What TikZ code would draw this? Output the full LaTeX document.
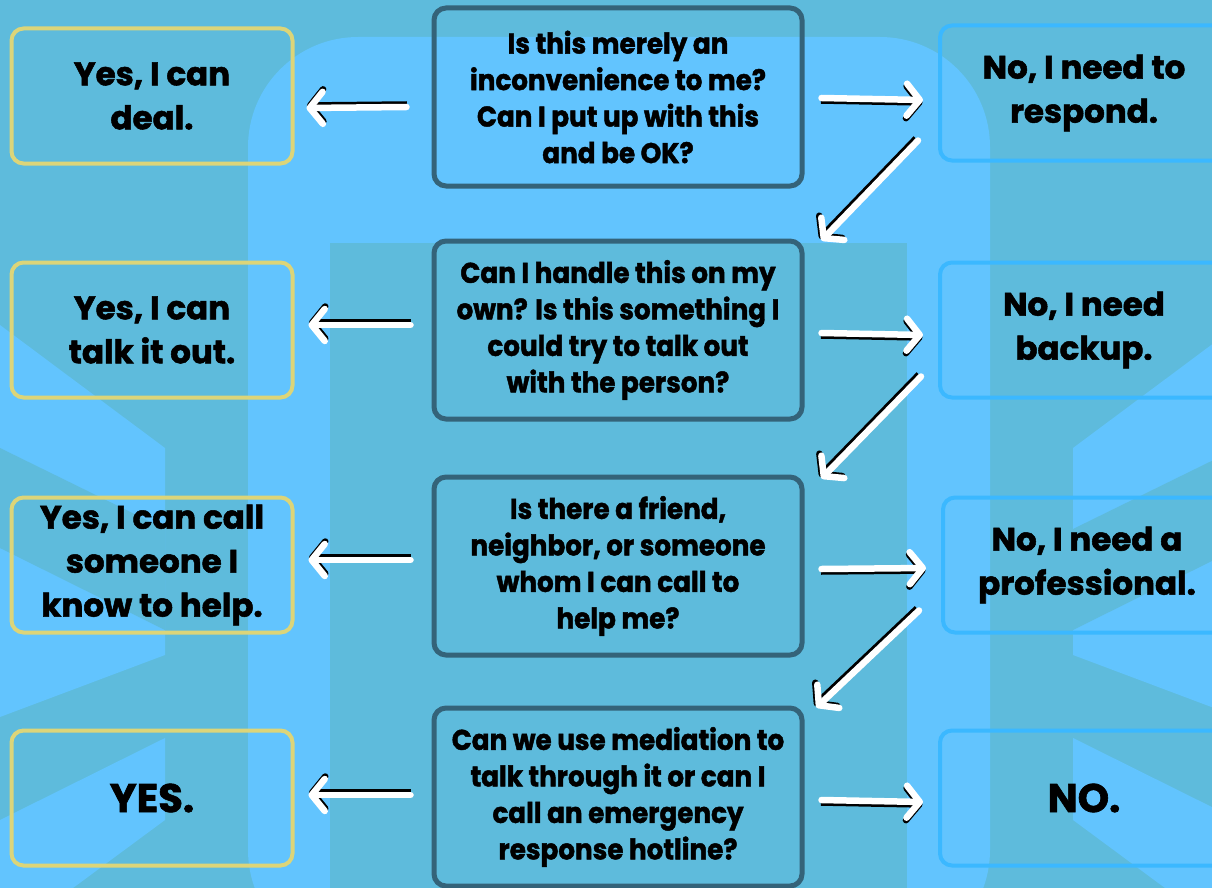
\documentclass[tikz,border=0pt]{standalone}
\usepackage{fontspec}
\setmainfont{Poppins}[BoldFeatures = {FakeBold = 1.6}]
\newfontfamily\qfont{Poppins}[FakeStretch = 0.92, BoldFeatures = {FakeBold = 1.6}]
\usetikzlibrary{calc,arrows.meta}

\definecolor{bgmuted}{HTML}{5EBBDC}
\definecolor{bglight}{HTML}{62C4FE}
\definecolor{yesline}{HTML}{DCD579}
\definecolor{qline}{HTML}{346379}
\definecolor{noline}{HTML}{3BB8FF}

\tikzset{
    yesbox/.style = {draw = yesline, line width = 4pt, rounded corners = 12pt, align = center,
        minimum width = 281pt, minimum height = 135pt, inner sep = 0pt,
        font = \bfseries\fontsize{32.5}{44}\selectfont},
    nobox/.style = {yesbox, draw = noline},
    qbox/.style = {draw = qline, line width = 5pt, rounded corners = 12pt, align = center,
        minimum width = 368pt, minimum height = 178pt, inner sep = 0pt,
        font = \qfont\bfseries\fontsize{28.5}{36.5}\selectfont},
    sketch/.style = {draw = white, line width = 6.5pt, line cap = round,
        -{Straight Barb[length = 13pt, width = 32pt, round]},
        preaction = {draw = black, line width = 6.5pt, transform canvas = {shift = {#1}}}}
}

\begin{document}
\begin{tikzpicture}[x = 1pt, y = -1pt]
    \clip (0, 0) rectangle (1212, 888);
    % background
    \fill[bgmuted] (0, 0) rectangle (1212, 888);
    \fill[bglight, rounded corners = 110pt] (248, 960) -- (248, 37) -- (990, 37) -- (990, 960) -- cycle;
    \fill[bgmuted] (330, 243) rectangle (907, 900);
    \fill[bglight] (0, 325) -- (165, 448) -- (165, 655) -- (0, 717) -- cycle;
    \fill[bgmuted] (0, 448) -- (165, 529) -- (165, 630) -- (0, 548) -- cycle;
    \fill[bglight] (0, 820) -- (165, 738) -- (165, 820) -- (73, 888) -- (0, 888) -- cycle;
    \fill[bglight] (1238, 325) -- (1073, 448) -- (1073, 655) -- (1238, 717) -- cycle;
    \fill[bgmuted] (1238, 448) -- (1073, 529) -- (1073, 630) -- (1238, 548) -- cycle;
    \fill[bglight] (1238, 820) -- (1073, 738) -- (1073, 820) -- (1165, 888) -- (1238, 888) -- cycle;

    % questions
    \node[qbox] (q1) at (618, 97) {Is this merely an \\ inconvenience to me? \\ Can I put up with this \\ and be OK?};
    \node[qbox] (q2) at (618, 330) {Can I handle this on my \\ own? Is this something I \\ could try to talk out \\ with the person?};
    \node[qbox] (q3) at (618, 566) {Is there a friend, \\ neighbor, or someone \\ whom I can call to \\ help me?};
    \node[qbox] (q4) at (618, 797) {Can we use mediation to \\ talk through it or can I \\ call an emergency \\ response hotline?};

    % yes answers
    \node[yesbox] (y1) at (152, 96) {Yes, I can \\ deal.};
    \node[yesbox] (y2) at (152, 330) {Yes, I can \\ talk it out.};
    \node[yesbox] (y3) at (152, 565) {Yes, I can call \\ someone I \\ know to help.};
    \node[yesbox] (y4) at (152, 798) {\fontsize{40}{44}\selectfont YES.};

    % no answers
    \node[nobox, minimum width = 288pt] (n1) at (1084, 93) {No, I need to \\ respond.};
    \node[nobox, minimum width = 288pt] (n2) at (1084, 330) {No, I need \\ backup.};
    \node[nobox, minimum width = 288pt] (n3) at (1087, 565) {No, I need a \\ professional.};
    \node[nobox, minimum width = 288pt] (n4) at (1084, 798) {\fontsize{40}{44}\selectfont NO.};

    % yes arrows
    \draw[sketch = {(0.5pt, 2.5pt)}] ($(q1.west) + (-25, 10)$) -- ($(y1.east) + (12, 12)$);
    \draw[sketch = {(0.5pt, 2.5pt)}] ($(q2.west) + (-21, -5)$) -- ($(y2.east) + (14, -5)$);
    \draw[sketch = {(0.5pt, 2.5pt)}] ($(q3.west) + (-21, -6)$) -- ($(y3.east) + (14, -5)$);
    \draw[sketch = {(0.5pt, 2.5pt)}] ($(q4.west) + (-21, -2)$) -- ($(y4.east) + (14, -3)$);

    % no arrows
    \draw[sketch = {(-0.5pt, -2.5pt)}] ($(q1.east) + (17, 1)$) -- ($(n1.west) + (-15, 7)$);
    \draw[sketch = {(-0.5pt, -2.5pt)}] ($(q2.east) + (17, 3)$) -- ($(n2.west) + (-15, 5)$);
    \draw[sketch = {(-0.5pt, -2.5pt)}] ($(q3.east) + (17, 3)$) -- ($(n3.west) + (-15, 3)$);
    \draw[sketch = {(-0.5pt, -2.5pt)}] ($(q4.east) + (17, 3)$) -- ($(n4.west) + (-15, 4)$);

    % down arrows
    \draw[sketch = {(-2pt, 2pt)}] ($(n1.south west) + (-20, -22)$) -- ($(q2.north east) + (17, 2)$);
    \draw[sketch = {(-2pt, 2pt)}] ($(n2.south west) + (-17, -23)$) -- ($(q3.north east) + (17, 4)$);
    \draw[sketch = {(-2pt, 2pt)}] ($(n3.south west) + (-22, -24)$) -- ($(q4.north east) + (12, 2)$);
\end{tikzpicture}
\end{document}
